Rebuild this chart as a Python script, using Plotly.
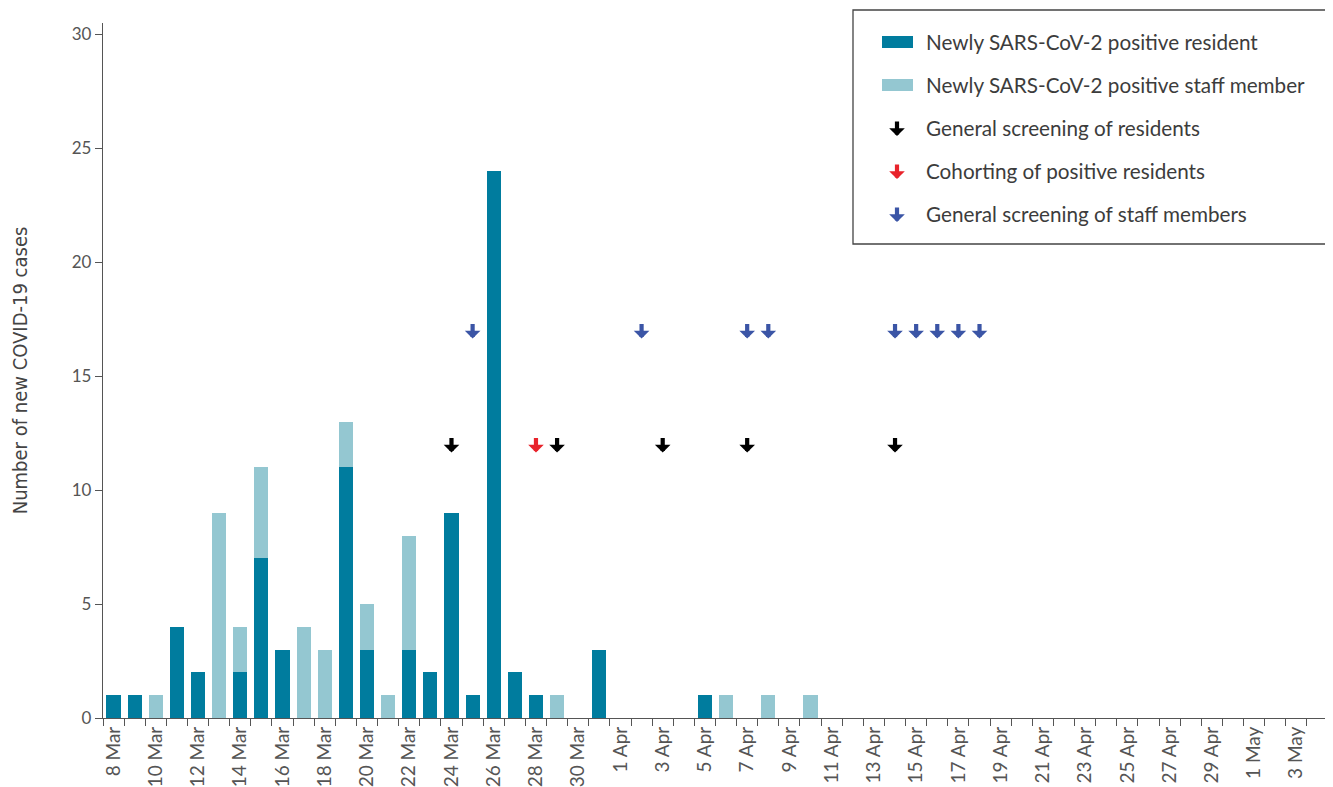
import plotly.graph_objects as go

# ---------------- data ----------------
dates = [
    "8 Mar", "9 Mar", "10 Mar", "11 Mar", "12 Mar", "13 Mar", "14 Mar", "15 Mar",
    "16 Mar", "17 Mar", "18 Mar", "19 Mar", "20 Mar", "21 Mar", "22 Mar", "23 Mar",
    "24 Mar", "25 Mar", "26 Mar", "27 Mar", "28 Mar", "29 Mar", "30 Mar", "31 Mar",
    "1 Apr", "2 Apr", "3 Apr", "4 Apr", "5 Apr", "6 Apr", "7 Apr", "8 Apr",
    "9 Apr", "10 Apr", "11 Apr", "12 Apr", "13 Apr", "14 Apr", "15 Apr", "16 Apr",
    "17 Apr", "18 Apr", "19 Apr", "20 Apr", "21 Apr", "22 Apr", "23 Apr", "24 Apr",
    "25 Apr", "26 Apr", "27 Apr", "28 Apr", "29 Apr", "30 Apr", "1 May", "2 May",
    "3 May", "4 May",
]
residents = [
    1, 1, 0, 4, 2, 0, 2, 7, 3, 0, 0, 11, 3, 0, 3, 2,
    9, 1, 24, 2, 1, 0, 0, 3,
    0, 0, 0, 0, 1, 0, 0, 0, 0, 0, 0, 0, 0, 0, 0, 0,
    0, 0, 0, 0, 0, 0, 0, 0, 0, 0, 0, 0, 0, 0, 0, 0, 0, 0,
]
staff = [
    0, 0, 1, 0, 0, 9, 2, 4, 0, 4, 3, 2, 2, 1, 5, 0,
    0, 0, 0, 0, 0, 1, 0, 0,
    0, 0, 0, 0, 0, 1, 0, 1, 0, 1, 0, 0, 0, 0, 0, 0,
    0, 0, 0, 0, 0, 0, 0, 0, 0, 0, 0, 0, 0, 0, 0, 0, 0, 0,
]
resident_screening_dates = ["24 Mar", "29 Mar", "3 Apr", "7 Apr", "14 Apr"]
cohorting_dates = ["28 Mar"]
staff_screening_dates = ["25 Mar", "2 Apr", "7 Apr", "8 Apr", "14 Apr",
                         "15 Apr", "16 Apr", "17 Apr", "18 Apr"]
y_ticks = [0, 5, 10, 15, 20, 25, 30]

series_names = [
    "Newly SARS-CoV-2 positive resident",
    "Newly SARS-CoV-2 positive staff member",
    "General screening of residents",
    "Cohorting of positive residents",
    "General screening of staff members",
]

# ---------------- styles ----------------
C_RES = "#007c9e"
C_STAFF = "#94c7d1"
C_BLACK = "#000000"
C_RED = "#e8232b"
C_BLUE = "#3b55a6"
FONT = "Lato, 'Open Sans', sans-serif"
TXT = "#3c3c3c"

RES_LEVEL = 12    # vertical placement of resident-related arrows
STAFF_LEVEL = 17  # vertical placement of staff arrows

OFF = 8  # page body margin of the html page
W, H = 1333 - OFF, 787 - OFF
L, R, T, B = 103 - OFF, 1328 - OFF, 23 - OFF, 718 - OFF


def px(x):
    return (x - OFF - L) / (R - L)


def py(y):
    return (B - (y - OFF)) / (B - T)


fig = go.Figure()
fig.add_trace(go.Bar(x=dates, y=residents, name=series_names[0],
                     marker=dict(color=C_RES, line=dict(width=0)), showlegend=False))
fig.add_trace(go.Bar(x=dates, y=staff, name=series_names[1],
                     marker=dict(color=C_STAFF, line=dict(width=0)), showlegend=False))

annotations = []


def arrow(x, y, color, xref="x", yref="y"):
    return dict(x=x, y=y, xref=xref, yref=yref, text="", showarrow=True,
                arrowhead=1, arrowsize=0.62, arrowwidth=4.2, arrowcolor=color,
                ax=0, ay=-16, yshift=-8)


for d in resident_screening_dates:
    annotations.append(arrow(d, RES_LEVEL, C_BLACK))
for d in cohorting_dates:
    annotations.append(arrow(d, RES_LEVEL, C_RED))
for d in staff_screening_dates:
    annotations.append(arrow(d, STAFF_LEVEL, C_BLUE))

# ---------------- legend (drawn) ----------------
shapes = [dict(type="rect", xref="paper", yref="paper",
               x0=px(853), x1=px(1328), y0=py(244), y1=py(10),
               line=dict(color="#444444", width=1.3), fillcolor="white", layer="above")]
row_y = [42, 85, 128, 171, 214]
for yc, col in zip(row_y[:2], [C_RES, C_STAFF]):
    shapes.append(dict(type="rect", xref="paper", yref="paper",
                       x0=px(882), x1=px(913), y0=py(yc + 6), y1=py(yc - 6),
                       line=dict(width=0), fillcolor=col, layer="above"))
for yc, col in zip(row_y[2:], [C_BLACK, C_RED, C_BLUE]):
    annotations.append(arrow(px(897), py(yc), col, xref="paper", yref="paper"))
for yc, name in zip(row_y, series_names):
    annotations.append(dict(x=px(924), y=py(yc), xref="paper", yref="paper",
                            text=name, showarrow=False, xanchor="left", yanchor="middle",
                            font=dict(family=FONT, size=20.7, color=TXT)))

ticktext = [d if i % 2 == 0 else "" for i, d in enumerate(dates)]

fig.update_layout(
    width=W, height=H,
    margin=dict(l=L, r=W - R, t=T, b=H - B, autoexpand=False),
    paper_bgcolor="white", plot_bgcolor="white",
    barmode="stack", bargap=0.33,
    showlegend=False,
    font=dict(family=FONT, color=TXT),
    shapes=shapes,
    annotations=annotations,
    xaxis=dict(
        type="category", categoryorder="array", categoryarray=dates,
        range=[-0.5, len(dates) - 0.5],
        tickmode="array", tickvals=dates, ticktext=ticktext,
        tickson="boundaries", ticks="outside", ticklen=7, tickwidth=1.3,
        tickcolor="#555555", tickangle=-90,
        tickfont=dict(family=FONT, size=19, color="#555555"),
        showline=True, linecolor="#555555", linewidth=1.3,
        showgrid=False, automargin=False,
    ),
    yaxis=dict(
        range=[0, 30.5], tickmode="array", tickvals=y_ticks,
        ticks="outside", ticklen=7, tickwidth=1.3, tickcolor="#555555",
        tickfont=dict(family=FONT, size=17, color="#555555"),
        showline=True, linecolor="#555555", linewidth=1.3,
        showgrid=False, zeroline=False, automargin=False,
        title=dict(text="Number of new COVID-19 cases", standoff=40,
                   font=dict(family="'Liberation Sans Narrow', 'DejaVu Sans Condensed', sans-serif",
                             size=20, color="#444444")),
    ),
)

fig.write_html("out.html")
